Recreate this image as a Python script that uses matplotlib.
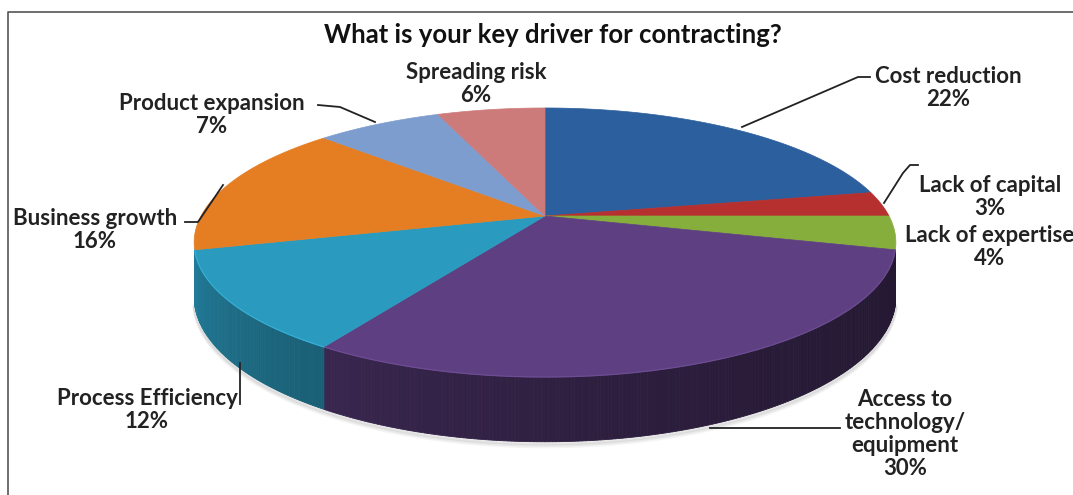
import numpy as np
import matplotlib.pyplot as plt
from matplotlib.colors import to_rgb

# chart data
labels = ["Cost reduction", "Lack of capital", "Lack of expertise",
          "Access to\ntechnology/\nequipment", "Process Efficiency",
          "Business growth", "Product expansion", "Spreading risk"]
shares = [22, 3, 4, 30, 12, 16, 7, 6]
top_colors = ["#2C5F9E", "#B5302E", "#86AE3C", "#5E3F82",
              "#2A9BBF", "#E57E22", "#7E9DCF", "#CD7B7A"]
title = "What is your key driver for contracting?"

# fake perspective of the 3D pie (pixel coords)
CX, CY = 545, 216
A, B, K, T = 344, 129.3, 0.197, 52
SIDE_FROM, SIDE_TO = -14.5, -165.5   # visible part of the wall


def project(theta, r=1.0, z=0.0):
    th = np.radians(theta)
    X = r * np.cos(th)
    Y = r * np.sin(th)
    s = 1.0 / (1.0 + K * Y)
    return CX + A * X * s, CY + (-B * Y + T * z) * s


def side_shade(theta):
    return 0.38 + 0.5 * (min(max(-theta, 0), 180) / 180.0) ** 2


fig = plt.figure(figsize=(10.73, 4.95), dpi=100)
ax = fig.add_axes([0, 0, 1, 1])
ax.set_xlim(0, 1073)
ax.set_ylim(495, 0)
ax.axis("off")

# slice angles, clockwise from 12 o'clock
fracs = np.array(shares) / float(sum(shares))
ends = 90 - 360 * np.cumsum(fracs)
starts = np.concatenate([[90], ends[:-1]])

# soft shadow below the pie
for i, alpha in enumerate([0.05, 0.05, 0.04]):
    angs = np.linspace(SIDE_FROM, SIDE_TO, 120)
    sx, sy = project(angs, z=1)
    ax.plot(sx, sy + 1.5 + i * 1.5, color="black", alpha=alpha, lw=3,
            zorder=1)

# side walls (front half only)
for st, en, col in zip(starts, ends, top_colors):
    a0, a1 = min(st, SIDE_FROM), max(en, SIDE_TO)
    if a0 <= a1:
        continue
    base = np.array(to_rgb(col))
    angs = np.arange(a0, a1, -0.5)
    angs = np.append(angs, a1)
    for t0, t1 in zip(angs[:-1], angs[1:]):
        x0, y0 = project(t0)
        x1, y1 = project(t1)
        x2, y2 = project(t1, z=1)
        x3, y3 = project(t0, z=1)
        c = np.clip(base * side_shade((t0 + t1) / 2), 0, 1)
        ax.fill([x0, x1, x2, x3], [y0, y1, y2, y3], color=c, lw=0.6,
                ec=c, zorder=2)

# top faces
for st, en, col in zip(starts, ends, top_colors):
    angs = np.linspace(st, en, 80)
    px, py = project(angs)
    xs = np.concatenate([[CX], px])
    ys = np.concatenate([[CY], py])
    ax.fill(xs, ys, color=col, lw=0.5, ec=col, zorder=3)
    # light rim along the front edge
    a0, a1 = min(st, SIDE_FROM), max(en, SIDE_TO)
    if a0 > a1:
        rim = np.linspace(a0, a1, 40)
        rx, ry = project(rim)
        rc = np.clip(np.array(to_rgb(col)) * 1.05 + 0.04, 0, 1)
        ax.plot(rx, ry, color=rc, lw=0.9, zorder=3.5)

# leader lines
lk = dict(color="#222222", lw=1.3, zorder=4)
ax.plot([742, 858, 870], [127, 77, 77], **lk)
ax.plot([884, 903, 910, 918], [203, 173, 165, 165], **lk)
ax.plot([223, 198, 185], [185, 222, 222], **lk)
ax.plot([375, 340, 318], [122, 107, 105], **lk)
ax.plot([240, 240], [363, 404], **lk)
ax.plot([710, 840], [428, 428], **lk)

# labels
label_pos = [(948, 88), (990, 197), (990, 247), (905, 434),
             (147, 410), (95, 230), (212, 115), (476, 84)]
for lab, pct, (x, y) in zip(labels, shares, label_pos):
    ax.text(x, y, "%s\n%d%%" % (lab, pct), ha="center", va="center",
            fontsize=16, fontweight="bold", family="Lato",
            color="#222222", linespacing=1.1, zorder=5)

ax.text(553, 35, title, ha="center", va="center", fontsize=18.5,
        fontweight="bold", family="Lato", color="#111111")

# outer frame
ax.plot([8, 8, 1080], [500, 12, 12], color="#555555", lw=1.2, zorder=1)

fig.savefig("out.png", dpi=100)
